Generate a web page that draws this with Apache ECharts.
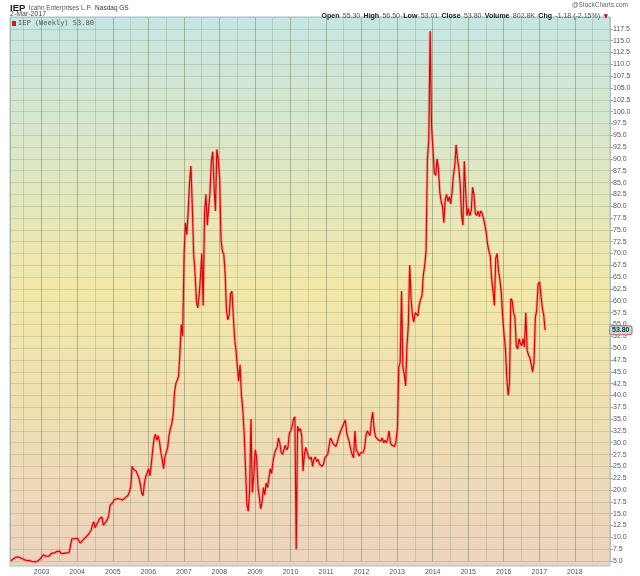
<!DOCTYPE html>
<html><head><meta charset="utf-8">
<script src="https://cdn.jsdelivr.net/npm/echarts@6/dist/echarts.min.js"></script>
<style>html,body{margin:0;padding:0;background:#fff}#c{width:640px;height:576px}</style>
</head><body><div id="c"></div>
<script>
const y2002 = [5.0,5.2,5.4,5.6,5.8,5.9,5.8,5.9,5.6,5.4,5.3,5.2,5.1,5.0,5.1,5.0,4.9,4.9,4.8,4.9,5.0,5.3,5.5];
const y2003 = [5.6,6.3,6.1,6.0,5.9,6.0,6.3,6.6,6.6,6.7,6.6,7.0,7.3,7.1,6.6,6.7,6.6,6.8,6.7,6.8,6.8,6.9,9.7,9.8,9.7,9.8];
const y2004 = [9.8,9.7,8.8,9.1,9.4,9.7,10.0,10.3,10.6,10.9,11.5,12.6,13.3,12.0,12.7,13.2,13.9,13.6,14.3,12.6,13.0,13.3,13.8,14.7,16.8,17.2];
const y2005 = [17.4,18.0,17.8,18.2,17.9,18.1,18.0,17.9,18.2,18.4,18.6,18.9,19.6,20.8,25.0,24.4,24.8,24.0,24.3,22.5,21.2,19.4,18.8,21.4,22.8,23.6];
const y2006 = [24.5,23.0,25.5,28.4,30.8,31.8,30.5,31.5,30.2,28.0,26.5,24.5,27.0,28.0,29.0,31.5,33.0,34.0,35.8,40.5,42.5,43.2,44.0,49.0,55.0,52.5];
const y2007 = [70.0,76.5,74.0,79.0,85.0,88.5,80.0,70.0,66.0,60.0,58.5,61.0,65.0,70.0,59.0,78.5,82.5,76.0,79.5,83.0,89.5,91.5,84.0,79.0,92.0,90.0];
const y2008 = [86.0,73.0,70.5,70.0,66.0,58.0,56.0,57.0,61.5,62.0,57.0,52.0,49.5,46.0,43.0,46.5,40.0,37.0,32.0,24.5,17.0,15.5,20.0,35.0,19.5,23.0];
const y2009 = [28.5,27.0,20.5,18.5,16.0,17.5,20.5,19.0,21.5,20.5,22.5,24.5,23.5,26.0,27.5,28.5,29.0,31.0,30.0,28.0,27.5,28.5,29.5,28.5,29.0,32.0];
const y2010 = [32.5,33.5,35.0,35.5,7.5,33.5,32.5,33.0,31.5,24.0,27.5,29.0,28.0,27.0,26.5,27.0,25.0,26.5,27.0,26.0,26.5,25.5,25.8,25.0,25.5,26.8];
const y2011 = [26.8,27.5,27.8,31.0,30.5,29.8,29.5,29.2,30.0,31.2,30.8,32.8,33.5,34.2,34.8,32.0,31.0,30.0,28.5,27.5,26.8,32.5,28.5,28.0,27.2,27.8];
const y2012 = [28.2,28.0,28.8,31.5,32.5,32.0,31.5,34.5,36.5,33.0,31.3,31.5,30.6,30.8,30.4,31.0,30.0,30.5,30.0,30.8,32.5,30.0,29.5,29.8,29.2,30.2];
const y2013 = [33.0,46.0,47.0,62.0,46.0,44.5,42.0,50.5,55.0,67.5,60.5,57.0,55.5,57.5,57.8,56.8,59.2,60.3,61.0,65.5,67.5,70.5,90.0,94.0,117.0,97.0];
const y2014 = [92.0,87.0,86.5,90.0,88.0,83.0,81.0,80.0,76.5,81.5,82.5,81.0,82.0,80.5,83.0,86.5,88.5,93.0,90.0,88.0,84.5,78.0,76.0,89.5,83.0,78.0];
const y2015 = [79.5,78.0,79.0,84.0,82.5,78.5,78.0,79.0,77.8,79.0,78.5,77.5,76.0,74.5,72.0,70.5,69.5,64.5,62.0,59.0,69.0,70.0,66.5,64.5,62.0,57.0];
const y2016 = [53.0,50.0,44.0,40.0,42.5,60.5,60.0,57.5,56.5,50.5,49.8,52.0,51.0,50.5,52.0,50.2,57.5,49.5,48.5,48.0,46.5,45.0,47.0,56.5,58.0,63.5];
const y2017 = [64.0,61.0,58.5,57.0,53.8];

// year, first biweekly slot, values
const yearBlocks = [[2002,3,y2002],[2003,0,y2003],[2004,0,y2004],[2005,0,y2005],[2006,0,y2006],[2007,0,y2007],[2008,0,y2008],[2009,0,y2009],[2010,0,y2010],[2011,0,y2011],[2012,0,y2012],[2013,0,y2013],[2014,0,y2014],[2015,0,y2015],[2016,0,y2016],[2017,0,y2017]];
const yearLabels = ['2003','2004','2005','2006','2007','2008','2009','2010','2011','2012','2013','2014','2015','2016','2017','2018'];
const quoteLabels = ['Open','High','Low','Close','Volume','Chg'];
const quoteValues = ['55.30','56.50','53.01','53.80','802.8K','-1.18 (-2.15%)'];
const lastClose = y2017[y2017.length - 1];

const data = [];
yearBlocks.forEach(([yr, off, vals]) => vals.forEach((v, i) => data.push([Date.UTC(yr, 0, 4 + 14 * (i + off)), v])));

const quoteText = quoteLabels.map((l, i) => '{b|' + l + '} {n|' + quoteValues[i] + '}').join(' ') + ' {r|▼}';

const chart = echarts.init(document.getElementById('c'));
chart.setOption({
  animation: false,
  useUTC: true,
  backgroundColor: '#ffffff',
  grid: { left: 10, right: 30, top: 17, bottom: 15, containLabel: false },
  xAxis: {
    type: 'time',
    min: Date.UTC(2002, 1, 10), max: Date.UTC(2018, 11, 28),
    splitNumber: 34,
    offset: 5,
    axisLine: { show: false },
    axisTick: { show: false },
    axisLabel: {
      color: '#555', fontSize: 7, fontFamily: 'Liberation Sans', margin: 3,
      showMinLabel: false, showMaxLabel: false, hideOverlap: false,
      formatter: v => { const d = new Date(v); const s = String(d.getUTCFullYear()); return (d.getUTCMonth() === 0 && d.getUTCDate() === 1 && yearLabels.includes(s)) ? s : ''; }
    },
    splitLine: { show: true, lineStyle: { color: ['rgba(105,115,85,0.45)', 'rgba(105,115,85,0.22)'], width: 1 } }
  },
  yAxis: {
    type: 'value', position: 'right', min: 5, max: 120, interval: 2.5,
    axisLine: { show: false },
    axisTick: { show: true, length: 3, lineStyle: { color: '#9aa' } },
    axisLabel: { color: '#555', fontSize: 7, fontFamily: 'Liberation Sans', margin: 3, showMaxLabel: false, formatter: v => v.toFixed(1) },
    splitLine: { show: true, lineStyle: { color: 'rgba(105,115,85,0.22)', width: 1 } }
  },
  graphic: [
    { type: 'rect', z: -100, shape: { x: 10, y: 17, width: 600, height: 549 },
      style: { fill: new echarts.graphic.LinearGradient(0, 0, 0, 1, [
        { offset: 0, color: '#c6e6e4' }, { offset: 0.5, color: '#f2e8a8' }, { offset: 1, color: '#ecd3bf' }]) } },
    { type: 'rect', z: 100, shape: { x: 10, y: 17, width: 600, height: 549 },
      style: { fill: 'none', stroke: '#a9c0cc', lineWidth: 1 } },
    { type: 'text', left: 10, top: 2, z: 100,
      style: { text: '{a|IEP} {b|Icahn Enterprises L.P.} {c|Nasdaq GS}',
        rich: { a: { fontSize: 9.5, fontWeight: 'bold', fill: '#222', fontFamily: 'Liberation Sans' },
                b: { fontSize: 6.5, fill: '#555', fontFamily: 'Liberation Sans' },
                c: { fontSize: 6.5, fill: '#333', fontFamily: 'Liberation Sans' } } } },
    { type: 'text', left: 10, top: 11, z: 100,
      style: { text: '2-Mar-2017', fontSize: 7, fill: '#444', fontFamily: 'Liberation Sans' } },
    { type: 'text', right: 12, top: 2, z: 100,
      style: { text: '@StockCharts.com', fontSize: 6.5, fill: '#666', fontFamily: 'Liberation Sans' } },
    { type: 'text', right: 32, top: 10, z: 100,
      style: { text: quoteText,
        rich: { b: { fontSize: 7, fontWeight: 'bold', fill: '#222', fontFamily: 'Liberation Sans' },
                n: { fontSize: 7, fill: '#555', fontFamily: 'Liberation Sans' },
                r: { fontSize: 6, fill: '#cc1111', fontFamily: 'DejaVu Sans' } } } },
    { type: 'rect', z: 100, shape: { x: 12, y: 21, width: 4, height: 5 }, style: { fill: '#dd1111' } },
    { type: 'text', left: 18, top: 20, z: 100,
      style: { text: 'IEP (Weekly) ' + lastClose.toFixed(2), fontSize: 7, fill: '#555', fontFamily: 'DejaVu Sans Mono' } }
  ],
  series: [
    { type: 'line', data: data, showSymbol: false, clip: false, z: 2,
      lineStyle: { color: 'rgba(232,110,100,0.45)', width: 3 } },
    { type: 'line', data: data, showSymbol: false, clip: false, z: 3,
      lineStyle: { color: '#e20008', width: 1.2 },
      markLine: { silent: true, symbol: ['none', 'none'], z: 10,
        lineStyle: { color: 'rgba(0,0,0,0)', width: 0 },
        label: { show: true, position: 'end', distance: 0, formatter: lastClose.toFixed(2),
          fontSize: 7, fontWeight: 'bold', color: '#133', fontFamily: 'Liberation Sans', opacity: 1,
          backgroundColor: '#bfe0e2', borderColor: '#e05050', borderWidth: 1, borderRadius: 2, padding: [1, 2, 0, 2] },
        data: [{ yAxis: lastClose }] } }
  ]
});
</script></body></html>
